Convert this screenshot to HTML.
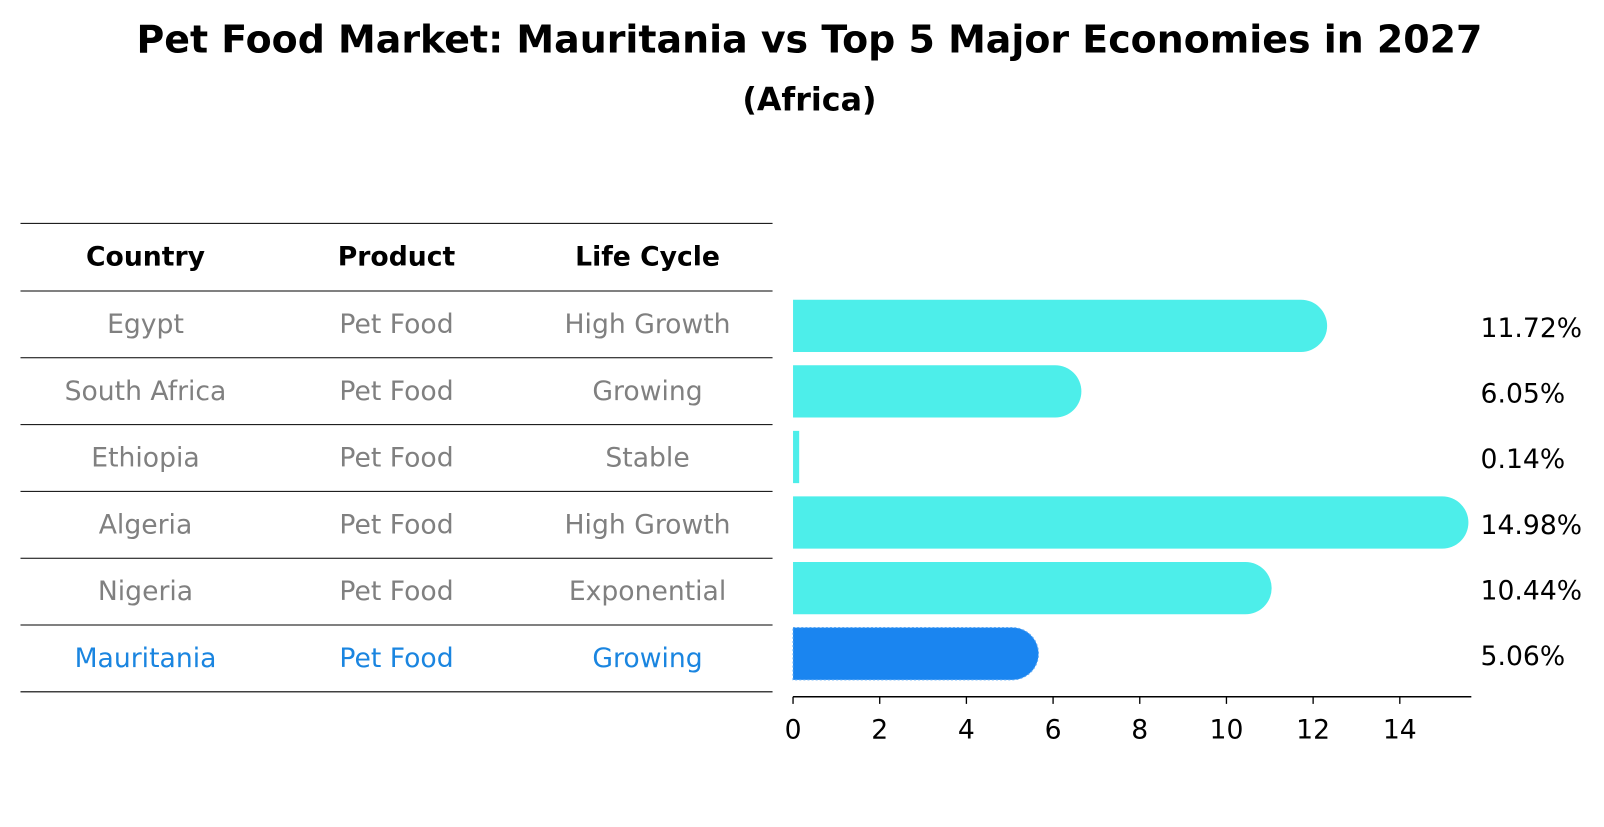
<!DOCTYPE html>
<html><head><meta charset="utf-8"><style>
body{margin:0;background:#fff;font-family:"DejaVu Sans","Liberation Sans",sans-serif;}
svg text{font-family:"DejaVu Sans","Liberation Sans",sans-serif;}
</style></head><body>
<svg id="chart" width="1604" height="823" xmlns="http://www.w3.org/2000/svg">
<g transform="scale(1.0246)">
<text x="790" y="51" text-anchor="middle" font-size="37" font-weight="bold">Pet Food Market: Mauritania vs Top 5 Major Economies in 2027</text>
<text x="790" y="108" text-anchor="middle" font-size="31" font-weight="bold">(Africa)</text>
<g id="table"></g>
<g id="bars"></g>
<g id="axis"></g>
</g>
</svg>
<script>
const countries=["Egypt","South Africa","Ethiopia","Algeria","Nigeria","Mauritania"];
const products=["Pet Food","Pet Food","Pet Food","Pet Food","Pet Food","Pet Food"];
const lifeCycles=["High Growth","Growing","Stable","High Growth","Exponential","Growing"];
const values=[11.72,6.05,0.14,14.98,10.44,5.06];
const ticks=[0,2,4,6,8,10,12,14];
const NS="http://www.w3.org/2000/svg";
function mk(tag,attrs,parent,text){const e=document.createElementNS(NS,tag);for(const k in attrs)e.setAttribute(k,attrs[k]);if(text!==undefined)e.textContent=text;parent.appendChild(e);return e;}
const x0=774,pxPer=42.3;
const xs=v=>x0+v*pxPer;
const rowY=i=>318+i*64;
const FS=26;
const table=document.getElementById('table');
const colX=[142,387,632];
const heads=["Country","Product","Life Cycle"];
heads.forEach((h,j)=>{const t=mk('text',{x:colX[j],y:259,'text-anchor':'middle','font-size':FS,'font-weight':'bold'},table,h);

});
const lineYs=[218,284];
countries.forEach((c,i)=>lineYs.push(284+(i+1)*65.2));
lineYs.forEach((y,i)=>{const l=mk('line',{x1:20,x2:754,y1:y,y2:y,stroke:'#000','stroke-width':1},table);

});
countries.forEach((c,i)=>{const col=c==="Mauritania"?"#1a85e0":"#808080";
[c,products[i],lifeCycles[i]].forEach((txt,j)=>{const t=mk('text',{x:colX[j],y:325+i*65.2,'text-anchor':'middle','font-size':FS,fill:col},table,txt);

});});
const bars=document.getElementById('bars');
values.forEach((v,i)=>{const cy=rowY(i);const h=51;const w=xs(v)-x0;const r=25.5;const hl=i===5;
const col=hl?"#1a85f0":"#4deeea";
let d;
if(w>r){d=`M${x0},${cy-h/2} H${x0+w} A${r},${r} 0 0 1 ${x0+w},${cy+h/2} H${x0} Z`;}
else{const ww=Math.max(w,6);d=`M${x0},${cy-h/2} H${x0+ww} V${cy+h/2} H${x0} Z`;}
const p=mk('path',{d:d,fill:col},bars);
if(hl){p.setAttribute('stroke','#5aa8f5');p.setAttribute('stroke-dasharray','2,2');p.setAttribute('stroke-width','1');}


const t=mk('text',{x:1445,y:cy+11,'font-size':FS},bars,v.toFixed(2)+'%');

});
const axis=document.getElementById('axis');
const al=mk('line',{x1:x0,x2:1436,y1:680,y2:680,stroke:'#000','stroke-width':1.5},axis);


ticks.forEach(t=>{const x=xs(t);
const tl=mk('line',{x1:x,x2:x,y1:680,y2:687,stroke:'#000','stroke-width':1.3},axis);


const tx=mk('text',{x:x,y:721,'text-anchor':'middle','font-size':FS},axis,String(t));

});
</script>
</body></html>
